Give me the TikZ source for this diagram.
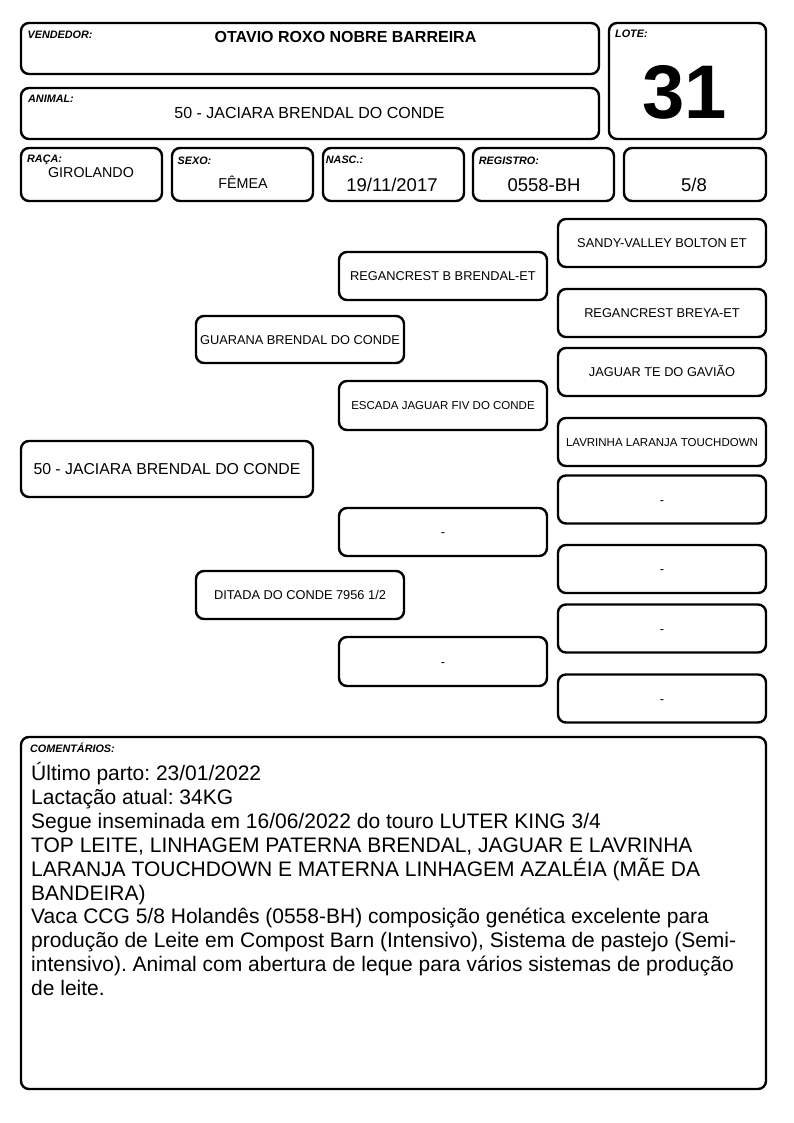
\documentclass[tikz,border=0pt]{standalone}
\usepackage{fontspec}
\setmainfont{Liberation Sans}
\frenchspacing
\newcommand{\fsz}[1]{\fontsize{#1}{#1}\selectfont}
\tikzset{
  x=1pt, y=-1pt,
  frame/.style={draw=black, line width=2.4pt, rounded corners=8pt, inner sep=0pt, fill=white},
  pbox/.style={frame, minimum width=208pt, font=\fsz{12.8}, text height=9.2pt, text depth=0pt},
  tight/.style={font=\fsz{11.5}, text height=8.3pt},
  lbl/.style={anchor=base west, inner sep=0pt, font=\fsz{10.8}\bfseries\itshape},
  val/.style={anchor=base, inner sep=0pt},
  cline/.style={anchor=base west, inner sep=0pt, font=\fsz{21}}
}
\begin{document}
\begin{tikzpicture}
\useasboundingbox (0,0) rectangle (794,1123);
% header boxes
\node[frame, minimum width=578pt, minimum height=51pt] (vend) at (310,48.5) {};
\node[frame, minimum width=157pt, minimum height=116pt] (lote) at (687.5,81) {};
\node[frame, minimum width=578pt, minimum height=51pt] (animal) at (310,113.5) {};
\node[frame, minimum width=141pt, minimum height=53pt] (raca) at (91.5,174.5) {};
\node[frame, minimum width=141pt, minimum height=53pt] (sexo) at (242.5,174.5) {};
\node[frame, minimum width=141pt, minimum height=53pt] (nasc) at (393.5,174.5) {};
\node[frame, minimum width=141pt, minimum height=53pt] (reg) at (543.5,174.5) {};
\node[frame, minimum width=142pt, minimum height=53pt] (comp) at (695,174.5) {};
% header labels
\node[lbl] (lvend) at (27.5,39) {VENDEDOR:};
\node[lbl] (llote) at (615,38) {LOTE:};
\node[lbl] (lanimal) at (28,102.5) {ANIMAL:};
\node[lbl] (lraca) at (27,163) {RAÇA:};
\node[lbl] (lsexo) at (177.5,164.3) {SEXO:};
\node[lbl] (lnasc) at (325.7,164) {NASC.:};
\node[lbl] (lreg) at (478.7,164.3) {REGISTRO:};
% header values
\node[val, font=\fsz{16}\bfseries] (vvend) at (345.5,43) {OTAVIO ROXO NOBRE BARREIRA};
\node[val, font=\fsz{76}\bfseries] (vlote) at (684.5,119) {31};
\node[val, font=\fsz{16}] (vanimal) at (309.5,119) {50 - JACIARA BRENDAL DO CONDE};
\node[val, font=\fsz{14.3}] (vraca) at (91,177.7) {GIROLANDO};
\node[val, font=\fsz{14.3}] (vsexo) at (243,189) {FÊMEA};
\node[val, font=\fsz{18.5}] (vnasc) at (392,191.7) {19/11/2017};
\node[val, font=\fsz{18.5}] (vreg) at (544,191.7) {0558-BH};
\node[val, font=\fsz{18.5}] (vcomp) at (694,192) {5/8};
% pedigree
\node[pbox, minimum width=292pt, minimum height=56pt, font=\fsz{15.8}, text height=11.4pt] (main) at (167,469) {50 - JACIARA BRENDAL DO CONDE};
\node[pbox, minimum height=47pt] (sire) at (300,339.5) {GUARANA BRENDAL DO CONDE};
\node[pbox, minimum height=48pt] (dam) at (300,595) {DITADA DO CONDE 7956 1/2};
\node[pbox, minimum height=48pt] (ss) at (443,276) {REGANCREST B BRENDAL-ET};
\node[pbox, tight, minimum height=49pt] (sd) at (443,405.5) {ESCADA JAGUAR FIV DO CONDE};
\node[pbox, minimum height=48pt] (ds) at (443,532) {-};
\node[pbox, minimum height=49pt] (dd) at (443,661.5) {-};
\node[pbox, minimum height=48pt] (sss) at (662,243) {SANDY-VALLEY BOLTON ET};
\node[pbox, minimum height=48pt] (ssd) at (662,313) {REGANCREST BREYA-ET};
\node[pbox, minimum height=48pt] (sds) at (662,372) {JAGUAR TE DO GAVIÃO};
\node[pbox, tight, minimum height=48pt] (sdd) at (662,442) {LAVRINHA LARANJA TOUCHDOWN};
\node[pbox, minimum height=48pt] (dss) at (662,499.5) {-};
\node[pbox, minimum height=48pt] (dsd) at (662,569) {-};
\node[pbox, minimum height=48pt] (dds) at (662,628.5) {-};
\node[pbox, minimum height=48pt] (ddd) at (662,698.5) {-};
% comments
\node[frame, minimum width=745pt, minimum height=352pt] (com) at (393.5,913) {};
\node[lbl] (lcom) at (30,752.7) {COMENTÁRIOS:};
\node[cline] (c1) at (31,780.5) {Último parto: 23/01/2022};
\node[cline] (c2) at (31,804.4) {Lactação atual: 34KG};
\node[cline] (c3) at (31,828.3) {Segue inseminada em 16/06/2022 do touro LUTER KING 3/4};
\node[cline] (c4) at (31,852.2) {TOP LEITE, LINHAGEM PATERNA BRENDAL, JAGUAR E LAVRINHA};
\node[cline] (c5) at (31,876.1) {LARANJA TOUCHDOWN E MATERNA LINHAGEM AZALÉIA (MÃE DA};
\node[cline] (c6) at (31,900.0) {BANDEIRA)};
\node[cline] (c7) at (31,923.9) {Vaca CCG 5/8 Holandês (0558-BH) composição genética excelente para};
\node[cline] (c8) at (31,947.8) {produção de Leite em Compost Barn (Intensivo), Sistema de pastejo (Semi-};
\node[cline] (c9) at (31,971.7) {intensivo). Animal com abertura de leque para vários sistemas de produção};
\node[cline] (c10) at (31,995.6) {de leite.};
\end{tikzpicture}
\end{document}
